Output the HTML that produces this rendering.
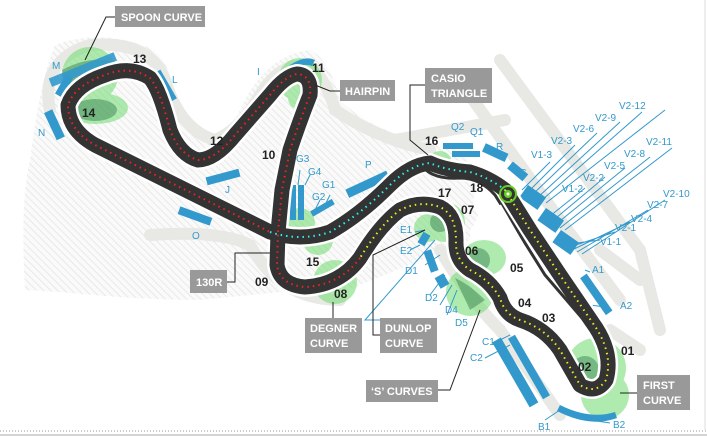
<!DOCTYPE html>
<html><head><meta charset="utf-8"><style>
html,body{margin:0;padding:0;background:#fff;}
svg{display:block;font-family:"Liberation Sans",sans-serif;}
.n{font-size:12px;font-weight:bold;fill:#222;}
.b{font-size:10px;fill:#3399cc;}
.lb{font-size:11px;font-weight:bold;fill:#fff;}
</style></head><body>
<svg width="707" height="436" viewBox="0 0 707 436">
<defs>
<pattern id="h" width="5" height="5" patternUnits="userSpaceOnUse" patternTransform="rotate(-45)">
<rect width="5" height="5" fill="#fafafa"/><line x1="0" y1="0" x2="0" y2="5" stroke="#e2e2e0" stroke-width="1.4"/></pattern>
</defs>
<rect width="707" height="436" fill="#fff"/>
<path d="M55,45 Q100,28 150,48 Q170,60 175,95 Q185,125 205,135 Q225,140 240,110 Q265,55 310,50 Q330,60 340,100 Q370,130 420,140 Q460,150 480,170 Q470,210 470,240 L360,285 Q330,300 300,290 L200,300 Q140,300 60,292 L25,290 Q20,200 30,160 Q40,80 55,45 Z" fill="url(#h)"/>
<path d="M390,200 Q420,180 460,185 L478,215 Q470,240 445,245 Q420,230 390,200Z" fill="url(#h)"/>
<g fill="none" stroke="#e8e9e4" stroke-width="12" stroke-linecap="round">
<path d="M50,110 Q40,60 90,45 Q150,40 165,80 Q180,130 215,140 Q240,130 260,95 Q285,55 315,70"/>
<path d="M315,70 Q330,90 335,110 Q380,140 430,150"/>
<path d="M150,235 Q220,230 250,245 Q280,300 340,300"/>
<path d="M455,75 L560,220 L620,300"/>
<path d="M500,60 L640,250 L660,330"/>
<path d="M395,140 L505,120"/>
<path d="M600,250 L640,280"/>
<path d="M440,250 Q470,300 500,330 L560,415"/>
<path d="M610,330 L640,350"/>
</g>
<g fill="#6fdc6f" opacity="0.55">
<circle cx="90" cy="75" r="28"/><ellipse cx="95" cy="108" rx="33" ry="16"/>
<circle cx="300" cy="80" r="22"/>
<circle cx="300" cy="98" r="12"/>
<circle cx="440" cy="163" r="12"/>
<circle cx="445" cy="222" r="20"/>
<circle cx="428" cy="228" r="14"/>
<ellipse cx="484" cy="258" rx="22" ry="18"/>
<circle cx="470" cy="292" r="24"/>
<circle cx="318" cy="240" r="15"/>
<circle cx="300" cy="223" r="15"/>
<circle cx="335" cy="282" r="22"/>
<circle cx="596" cy="368" r="30"/>
<circle cx="605" cy="395" r="24"/>
</g>
<g fill="#2f7a4a" opacity="0.45">
<path d="M62,70 Q90,55 115,62 Q95,95 65,95Z"/>
<ellipse cx="95" cy="110" rx="22" ry="11"/>
<path d="M455,278 Q470,285 485,300 L470,310 Z"/>
<circle cx="585" cy="370" r="14"/>
<circle cx="478" cy="260" r="12"/>
<circle cx="440" cy="222" r="10"/>
</g>
<g fill="#3399cc">
<rect x="48" y="65" width="70" height="9" transform="rotate(-22 83 70)" opacity="0.9"/>
<rect x="60" y="75" width="8" height="22" transform="rotate(30 64 86)"/>
<rect x="50" y="110" width="9" height="30" transform="rotate(-25 54 125)"/>
<rect x="160" y="70" width="9" height="33" transform="rotate(-30 164 86)"/>
<path d="M236,120 L290,65 Q305,55 315,60 L312,66 Q300,62 292,72 L241,124Z"/>
<rect x="206" y="173" width="34" height="8" transform="rotate(-15 223 177)"/>
<rect x="178" y="212" width="34" height="8" transform="rotate(20 195 216)"/>
<rect x="290" y="185" width="6" height="35"/><rect x="298" y="185" width="6" height="35"/>
<rect x="310" y="205" width="25" height="6" transform="rotate(-30 322 208)"/>
<rect x="345" y="180" width="45" height="9" transform="rotate(-25 367 184)"/>
<rect x="443" y="143" width="30" height="6"/><rect x="452" y="151" width="28" height="6"/>
<rect x="483" y="148" width="25" height="9" transform="rotate(25 495 152)"/>
<rect x="508" y="167" width="20" height="9" transform="rotate(40 518 171)"/>
<rect x="522" y="190" width="22" height="15" transform="rotate(35 533 197)"/>
<rect x="540" y="213" width="22" height="15" transform="rotate(35 551 220)"/>
<rect x="555" y="235" width="22" height="15" transform="rotate(35 566 242)"/>
<rect x="592" y="272" width="8" height="45" transform="rotate(-35 596 294)"/>
<rect x="420" y="233" width="8" height="12" transform="rotate(30 424 239)"/>
<rect x="427" y="250" width="8" height="22" transform="rotate(-20 431 261)"/>
<rect x="437" y="275" width="10" height="12" transform="rotate(-30 442 281)"/>
<rect x="510" y="335" width="10" height="75" transform="rotate(-30 515 372)"/>
<rect x="525" y="332" width="8" height="70" transform="rotate(-30 529 367)"/>
<path d="M560,405 Q590,420 615,412 L617,418 Q590,428 557,411Z"/>
</g>
<g stroke="#3399cc" stroke-width="1" fill="none">
<path d="M522,190 L550,162 M527,193 L575,145 M532,195 L597,133 M537,198 L620,122 M542,200 L642,112 M546,203 L665,110"/>
<path d="M545,220 L585,188 M550,223 L605,177 M555,225 L625,168 M560,228 L650,157 M565,230 L672,148"/>
<path d="M562,245 L600,240 M567,248 L615,232 M572,250 L630,222 M577,252 L648,210 M582,254 L665,200"/>
<path d="M425,230 L415,232 M420,245 L410,250 M435,240 L365,320 L380,320 M440,255 L425,265 M445,275 L430,295 M452,285 L440,305 M457,290 L447,315 M510,335 L500,340 M510,345 L485,358 M590,272 L585,270 M590,305 L605,307 M560,410 L545,420 M590,420 L610,423"/>
<path d="M298,185 L300,170 M305,185 L310,175 M315,210 L320,200 M325,205 L330,195"/>
</g>
<path id="t1" fill="none" d="M278,232 L282,190 L290,150 Q300,120 310,95 Q312,75 297,74 Q285,76 270,95 L235,135 Q215,160 198,160 Q180,155 170,130 Q160,90 150,78 Q130,65 105,75 Q75,85 68,105 Q68,130 95,145 L270,232 Q300,242 330,232 Q360,215 390,185 Q410,165 430,163 Q445,170 470,172 Q490,178 505,190 L530,230 L560,275 L592,322 Q614,352 606,380 Q596,395 580,385 L560,350 Q545,328 520,320 Q505,315 500,298 Q490,280 470,270 Q455,260 456,240 Q456,215 440,207 Q420,200 400,210 Q380,225 360,258 Q340,285 305,287 Q280,285 277,265 L278,232"/>
<use href="#t1" stroke="#fff" stroke-width="20" fill="none" stroke-linejoin="round"/>
<use href="#t1" stroke="#333" stroke-width="15" fill="none" stroke-linejoin="round"/>
<path d="M420,163 Q430,180 460,178 Q480,178 495,195 L545,275 L588,325" fill="none" stroke="#333" stroke-width="3"/>
<path d="M500,205 L522,243" stroke="#fff" stroke-width="2"/>
<path d="M516,235 L524,245 L516,243Z" fill="#fff"/>
<g fill="none" stroke-width="2" stroke-dasharray="1.5 4">
<path d="M278,232 L282,190 L290,150 Q300,120 310,95 Q312,75 297,74 Q285,76 270,95 L235,135 Q215,160 198,160 Q180,155 170,130 Q160,90 150,78 Q130,65 105,75 Q75,85 68,105 Q68,130 95,145 L270,232" stroke="#e22"/>
<path d="M270,232 Q300,242 330,232 Q360,215 390,185 Q410,165 430,163 Q445,170 470,172 Q490,178 505,190" stroke="#3ee"/>
<path d="M505,190 L530,230 L560,275 L592,322 Q614,352 606,380 Q596,395 580,385 L560,350 Q545,328 520,320 Q505,315 500,298 Q490,280 470,270 Q455,260 456,240 Q456,215 440,207 Q420,200 400,210 Q380,225 360,258" stroke="#ee2"/>
<path d="M360,258 Q340,285 305,287 Q280,285 277,265 L278,232" stroke="#e22"/>
</g>
<circle cx="508" cy="194" r="8" fill="none" stroke="#6c2" stroke-width="2"/>
<circle cx="508" cy="194" r="4" fill="#6c2"/><circle cx="508" cy="194" r="1.5" fill="#fff"/>
<g stroke="#222" stroke-width="1" fill="none">
<path d="M115,17 L106,17 L85,60"/>
<path d="M340,91 L330,91 L315,85"/>
<path d="M425,85 L410,85 L410,140 L428,155"/>
<path d="M227,282 L235,282 L235,253 L270,253"/>
<path d="M333,318 L333,302"/>
<path d="M380,335 L373,335 L373,255 L425,230"/>
<path d="M438,390 L450,390 L480,310"/>
<path d="M637,393 L620,393"/>
</g>
<g fill="#999">
<rect x="115" y="6" width="90" height="21"/><rect x="340" y="80" width="55" height="21"/>
<rect x="425" y="68" width="67" height="35"/><rect x="190" y="270" width="37" height="23"/>
<rect x="305" y="318" width="57" height="35"/><rect x="380" y="318" width="57" height="35"/>
<rect x="366" y="380" width="72" height="22"/><rect x="637" y="375" width="53" height="35"/>
</g>
<g class="lb">
<text x="121" y="21">SPOON CURVE</text><text x="345" y="95">HAIRPIN</text>
<text x="431" y="82">CASIO</text><text x="431" y="97">TRIANGLE</text>
<text x="196" y="286">130R</text>
<text x="310" y="332">DEGNER</text><text x="310" y="347">CURVE</text>
<text x="385" y="332">DUNLOP</text><text x="385" y="347">CURVE</text>
<text x="371" y="395">‘S’ CURVES</text>
<text x="643" y="389">FIRST</text><text x="643" y="404">CURVE</text>
</g>
<g class="n">
<text x="133" y="63">13</text><text x="82" y="117">14</text><text x="312" y="72">11</text>
<text x="210" y="145">12</text><text x="262" y="159">10</text><text x="425" y="145">16</text>
<text x="438" y="197">17</text><text x="470" y="192">18</text><text x="461" y="214">07</text>
<text x="465" y="255">06</text><text x="510" y="272">05</text><text x="518" y="307">04</text>
<text x="542" y="322">03</text><text x="621" y="355">01</text><text x="578" y="371">02</text>
<text x="306" y="266">15</text><text x="255" y="286">09</text><text x="334" y="298">08</text>
</g>
<g class="b">
<text x="52" y="69">M</text><text x="38" y="136">N</text><text x="172" y="83">L</text>
<text x="257" y="75">I</text><text x="225" y="193">J</text><text x="192" y="239">O</text>
<text x="296" y="162">G3</text><text x="308" y="175">G4</text><text x="322" y="188">G1</text>
<text x="312" y="200">G2</text><text x="365" y="168">P</text>
<text x="451" y="130">Q2</text><text x="470" y="135">Q1</text><text x="496" y="150">R</text>
<text x="520" y="176">S</text>
<text x="531" y="158">V1-3</text><text x="551" y="144">V2-3</text><text x="573" y="132">V2-6</text>
<text x="595" y="121">V2-9</text><text x="619" y="109">V2-12</text>
<text x="562" y="192">V1-2</text><text x="583" y="181">V2-2</text><text x="604" y="169">V2-5</text>
<text x="624" y="157">V2-8</text><text x="646" y="145">V2-11</text>
<text x="600" y="245">V1-1</text><text x="615" y="231">V2-1</text><text x="631" y="222">V2-4</text>
<text x="647" y="208">V2-7</text><text x="663" y="197">V2-10</text>
<text x="400" y="233">E1</text><text x="400" y="254">E2</text><text x="405" y="274">D1</text>
<text x="425" y="301">D2</text><text x="445" y="313">D4</text><text x="455" y="326">D5</text>
<text x="592" y="273">A1</text><text x="620" y="309">A2</text>
<text x="482" y="345">C1</text><text x="470" y="361">C2</text>
<text x="538" y="430">B1</text><text x="613" y="428">B2</text>
</g>
<line x1="0" y1="431" x2="707" y2="431" stroke="#999" stroke-dasharray="1 2"/>
<line x1="0" y1="435" x2="707" y2="435" stroke="#aaa"/>
<line x1="705" y1="0" x2="705" y2="430" stroke="#ddd"/>
</svg>
</body></html>
